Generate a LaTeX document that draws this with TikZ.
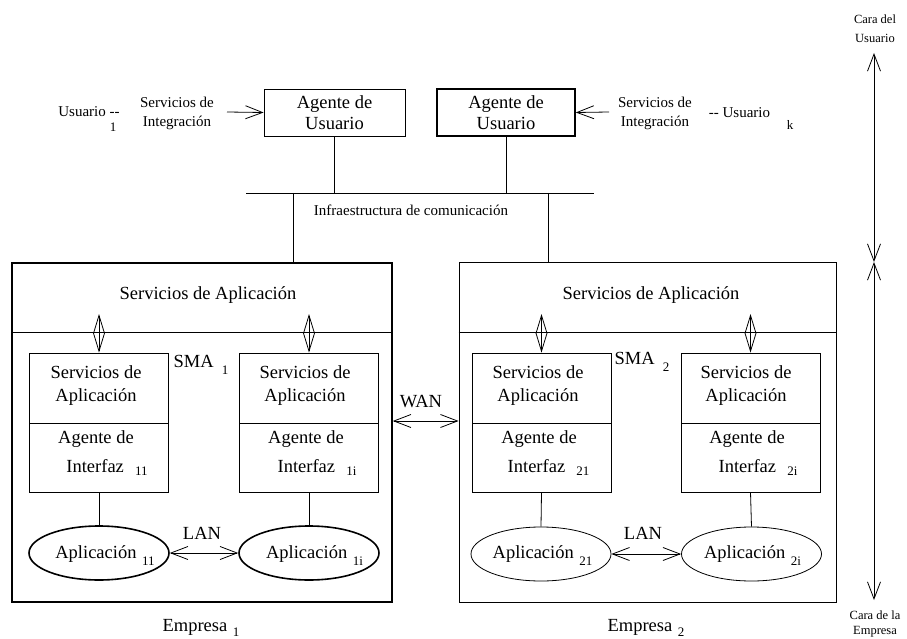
\documentclass[tikz,border=0pt]{standalone}
\usepackage{fontspec}
\setmainfont{Liberation Serif}
\usetikzlibrary{arrows.meta,shapes.geometric}
% lowered index: gap, drop, text
\newcommand\lowsub[3]{\hspace{#1}\raisebox{-#2}{\fontsize{13}{13}\selectfont #3}}
\newcommand\bigtxt{\fontsize{18.5}{23}\selectfont}
\newcommand\midtxt{\fontsize{15}{19}\selectfont}
\newcommand\smalltxt{\fontsize{12.5}{19}\selectfont}
\begin{document}
\begin{tikzpicture}[x=1pt,y=-1pt,
  plain/.style={line width=0.8pt},
  heavy/.style={line width=1.6pt},
  box/.style={draw, rectangle, inner sep=0pt},
  oval/.style={draw, ellipse, inner sep=0pt, minimum width=140pt, minimum height=54pt},
  txt/.style={inner sep=0pt, align=center, font=\bigtxt},
  mtxt/.style={inner sep=0pt, align=center, font=\midtxt},
  stxt/.style={inner sep=0pt, align=center, font=\smalltxt},
  barb/.style={-{Straight Barb[length=17pt,width=13pt]}},
  dbarb/.style={{Straight Barb[length=17pt,width=13pt]}-{Straight Barb[length=17pt,width=13pt]}},
  vbarb/.style={{Straight Barb[length=18pt,width=11pt]}-{Straight Barb[length=18pt,width=11pt]}}]
\useasboundingbox (0,0) rectangle (907,639);

% user agents
\node[box, plain, minimum width=141pt, minimum height=47pt] (ua1) at (334.5,112.5) {};
\node[box, heavy, minimum width=138pt, minimum height=47pt] (ua2) at (506,112.5) {};
\node[txt, font=\fontsize{18.5}{21}\selectfont] (ua1t) at (334.5,112.5) {Agente de\\Usuario};
\node[txt, font=\fontsize{18.5}{21}\selectfont] (ua2t) at (506,112.5) {Agente de\\Usuario};

% users and integration services
\node[mtxt] (u1) at (89,112) {Usuario -{}-};
\node[inner sep=0pt, font=\fontsize{13}{13}\selectfont] (u1i) at (113,127) {1};
\node[mtxt] (si1) at (177,113) {Servicios de\\Integración};
\node[mtxt] (uk) at (739.5,113) {-{}- Usuario};
\node[inner sep=0pt, font=\fontsize{13}{13}\selectfont] (uki) at (790,125) {k};
\node[mtxt] (si2) at (655,113) {Servicios de\\Integración};
\coordinate (in1) at (227,112);
\coordinate (in2) at (609,112);
\draw[plain, barb] (in1) -- (ua1.west);
\draw[plain, barb] (in2) -- (ua2.east);

% communication bus
\coordinate (busl) at (246,193);
\coordinate (busr) at (594,193);
\draw[plain] (busl) -- (busr);
\draw[plain] (ua1.south) -- (ua1.south |- busl);
\draw[plain] (ua2.south) -- (ua2.south |- busl);
\node[mtxt] (bus) at (411,210) {Infraestructura de comunicación};

% enterprises
\node[box, heavy, minimum width=380pt, minimum height=339pt] (e1) at (202,432.5) {};
\node[box, plain, minimum width=377pt, minimum height=340pt] (e2) at (647.5,432) {};
\coordinate (j1) at (293,193);
\coordinate (j2) at (548,193);
\draw[plain] (j1) -- (j1 |- e1.north);
\draw[plain] (j2) -- (j2 |- e2.north);
\coordinate (d1) at (0,332);
\draw[plain] (e1.west |- d1) -- (e1.east |- d1);
\draw[plain] (e2.west |- d1) -- (e2.east |- d1);
\node[txt] (sa1) at (208,295) {Servicios de Aplicación};
\node[txt] (sa2) at (651,295) {Servicios de Aplicación};
\node[txt] (emp1) at (201,628) {Empresa\lowsub{0.3em}{4.5pt}{1}};
\node[txt] (emp2) at (646,628) {Empresa\lowsub{0.3em}{4.5pt}{2}};
\node[txt] (sma1) at (201,365) {SMA\lowsub{0.45em}{7pt}{1}};
\node[txt] (sma2) at (642,362) {SMA\lowsub{0.45em}{7pt}{2}};

% multi-agent systems: service part over interface agent
\foreach \n/\x in {11/99, 1i/309, 21/541.5, 2i/750.5} {
  \node[box, plain, minimum width=139pt, minimum height=70pt] (s\n) at (\x,388) {};
  \node[box, plain, minimum width=139pt, minimum height=69pt] (a\n) at (\x,457.5) {};
  \coordinate (t\n) at (\x,314);
  \draw[plain, vbarb] (t\n) -- (s\n.north);
}
\node[txt] (s11t) at (96,386) {Servicios de\\Aplicación};
\node[txt] (s1it) at (305,386) {Servicios de\\Aplicación};
\node[txt] (s21t) at (538,386) {Servicios de\\Aplicación};
\node[txt] (s2it) at (746,386) {Servicios de\\Aplicación};
\node[txt] (a11t) at (96,439) {Agente de};
\node[txt] (a1it) at (306,439) {Agente de};
\node[txt] (a21t) at (539,439) {Agente de};
\node[txt] (a2it) at (747,439) {Agente de};
\node[txt] (a11s) at (107,467) {Interfaz\lowsub{0.6em}{3pt}{11}};
\node[txt] (a1is) at (317,467) {Interfaz\lowsub{0.6em}{3pt}{1i}};
\node[txt] (a21s) at (548.5,467) {Interfaz\lowsub{0.6em}{3pt}{21}};
\node[txt] (a2is) at (758,467) {Interfaz\lowsub{0.6em}{3pt}{2i}};

% applications
\node[oval, heavy] (p11) at (99,553) {};
\node[oval, heavy] (p1i) at (309,553) {};
\node[oval, plain] (p21) at (541,554) {};
\node[oval, plain] (p2i) at (751.5,554) {};
\foreach \n in {11, 1i, 21, 2i} {
  \draw[plain] (a\n.south) -- (p\n.north);
}
\node[txt] (p11t) at (105,556) {Aplicación\lowsub{0.3em}{7pt}{11}};
\node[txt] (p1it) at (314.5,556) {Aplicación\lowsub{0.3em}{7pt}{1i}};
\node[txt] (p21t) at (542.5,556) {Aplicación\lowsub{0.3em}{7pt}{21}};
\node[txt] (p2it) at (752.5,556) {Aplicación\lowsub{0.3em}{7pt}{2i}};
\draw[plain, dbarb] (p11.east) -- (p1i.west);
\draw[plain, dbarb] (p21.east) -- (p2i.west);
\node[txt] (lan1) at (202,533) {LAN};
\node[txt] (lan2) at (643,533) {LAN};

% wide area link
\draw[plain, dbarb] (e1.east |- 0,421) -- (e2.west |- 0,421);
\node[txt] (wan) at (421,402) {WAN};

% user side / enterprise side scale
\coordinate (ax0) at (874,53);
\coordinate (ax1) at (874,262);
\coordinate (ax2) at (874,600);
\draw[plain, dbarb] (ax1) -- (ax0);
\draw[plain, dbarb] (ax1) -- (ax2);
\node[stxt] (cu) at (875,29) {Cara del\\Usuario};
\node[stxt, font=\fontsize{12.5}{14.5}\selectfont] (ce) at (875,624) {Cara de la\\Empresa};
\end{tikzpicture}
\end{document}
